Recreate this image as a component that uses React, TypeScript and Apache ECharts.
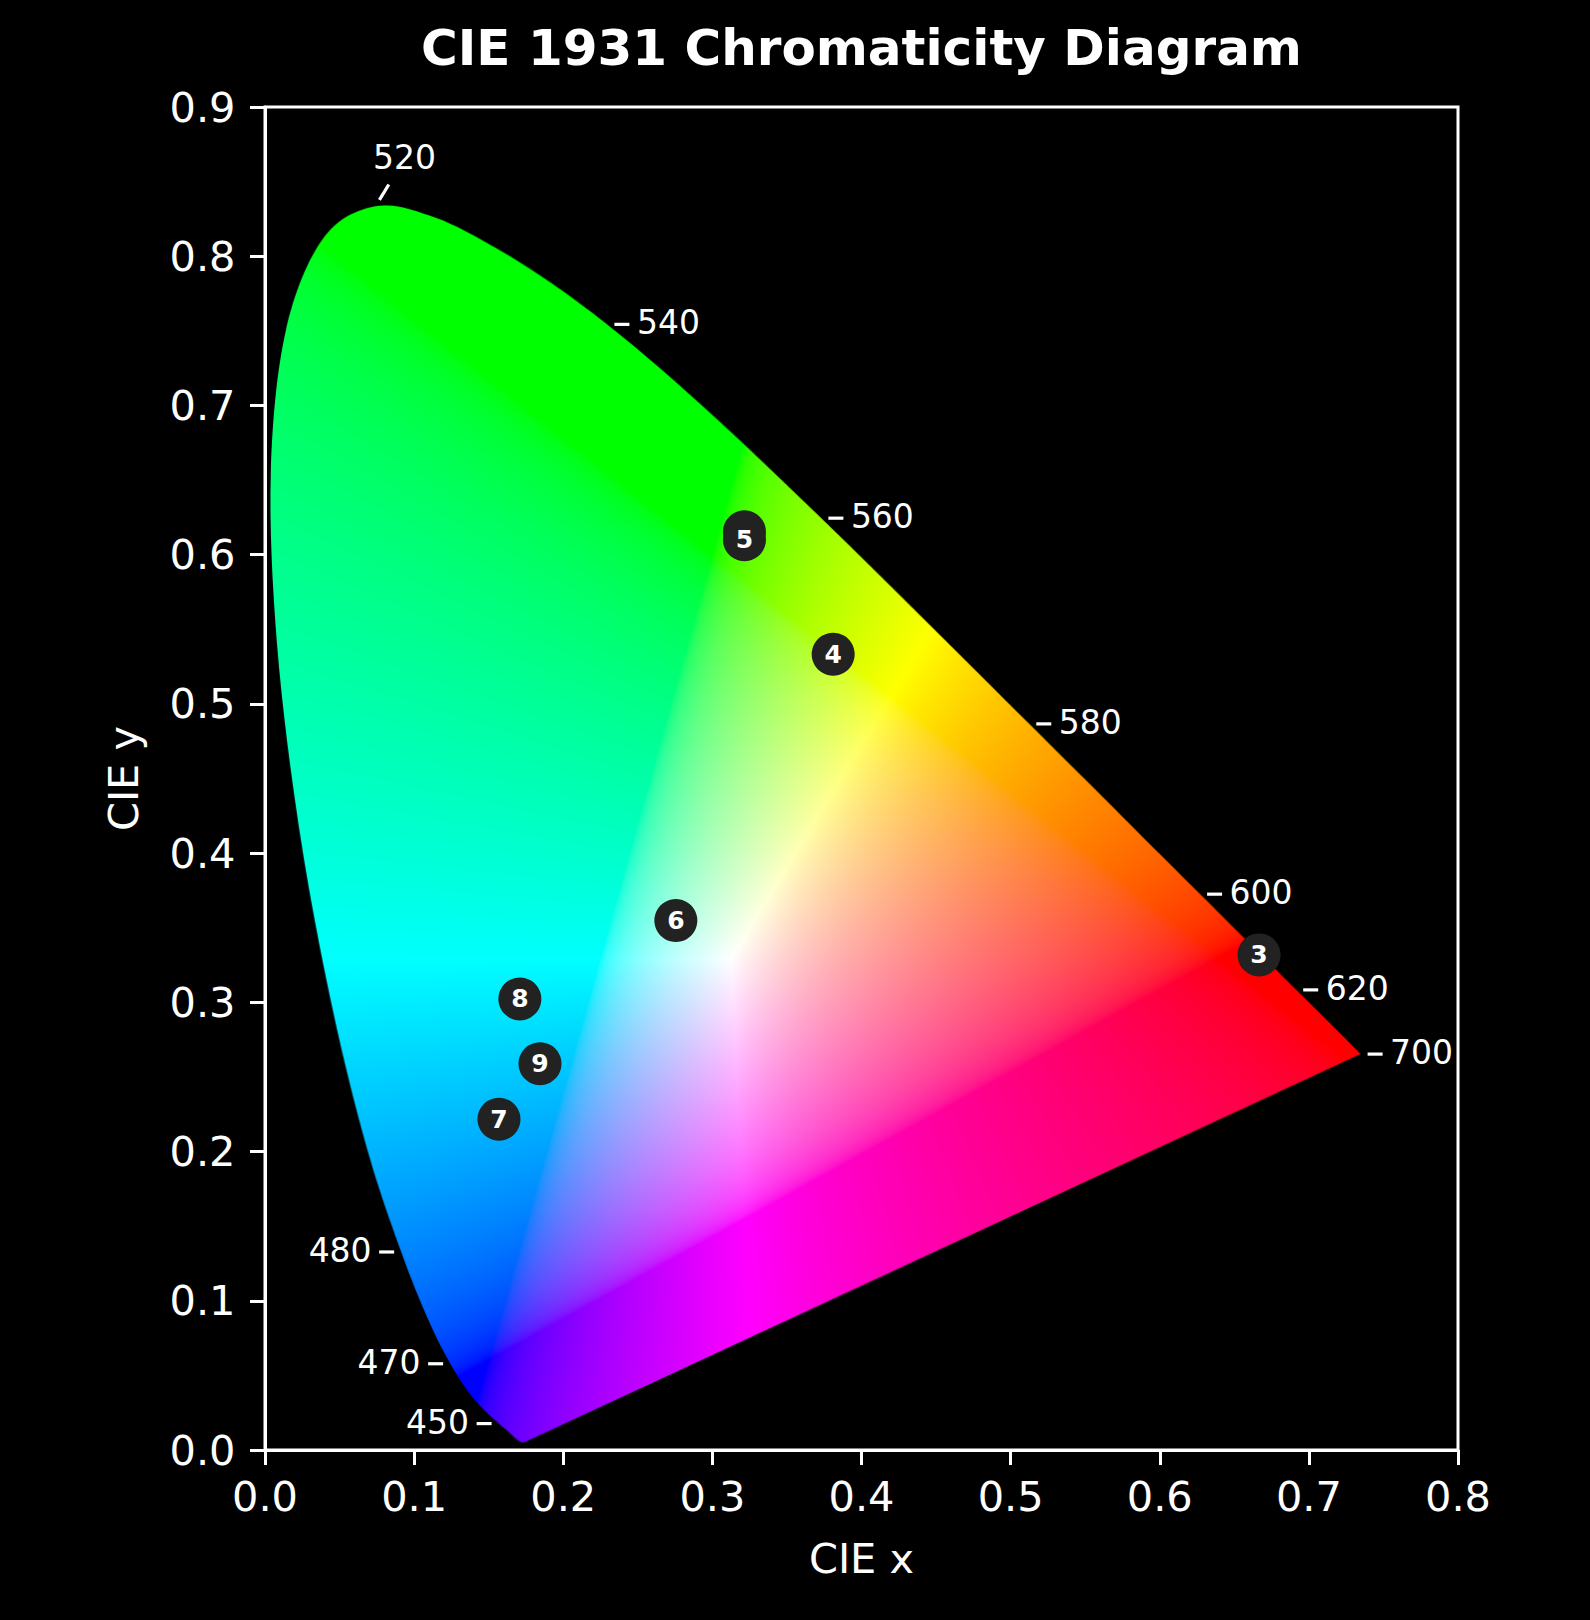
import React, { useEffect, useRef } from "react";
import * as echarts from "echarts";

// ---- Data ----
const WAVELENGTHS = [
  380, 385, 390, 395, 400, 405, 410, 415, 420, 425, 430, 435, 440, 445, 450, 455,
  460, 465, 470, 475, 480, 485, 490, 495, 500, 505, 510, 515, 520, 525, 530, 535,
  540, 545, 550, 555, 560, 565, 570, 575, 580, 585, 590, 595, 600, 605, 610, 615,
  620, 625, 630, 635, 640, 645, 650, 655, 660, 665, 670, 675, 680, 685, 690, 695, 700,
];
const LOCUS_X = [
  0.17411, 0.17401, 0.1738, 0.17356, 0.17334, 0.17302, 0.17258, 0.17209, 0.17141, 0.1703,
  0.16888, 0.1669, 0.16441, 0.1611, 0.15664, 0.15099, 0.14396, 0.1355, 0.12412, 0.10959,
  0.09129, 0.06871, 0.04539, 0.02346, 0.00817, 0.00386, 0.01387, 0.03885, 0.0743, 0.11416,
  0.15472, 0.19288, 0.22962, 0.26578, 0.3016, 0.33736, 0.3731, 0.40874, 0.44406, 0.47877,
  0.51249, 0.54479, 0.57515, 0.60293, 0.62704, 0.64823, 0.66576, 0.68008, 0.6915, 0.70061,
  0.70792, 0.71403, 0.71903, 0.72303, 0.72599, 0.72827, 0.72997, 0.73109, 0.73199, 0.73272,
  0.73342, 0.73405, 0.73439, 0.73459, 0.73469,
];
const LOCUS_Y = [
  0.00496, 0.00498, 0.00492, 0.00492, 0.0048, 0.00478, 0.0048, 0.00483, 0.0051, 0.00579,
  0.0069, 0.00856, 0.01086, 0.01379, 0.01771, 0.02274, 0.0297, 0.03988, 0.0578, 0.08684,
  0.1327, 0.20072, 0.29498, 0.4127, 0.53842, 0.65482, 0.75019, 0.81202, 0.8338, 0.82621,
  0.80586, 0.78163, 0.75433, 0.72432, 0.69231, 0.65885, 0.62445, 0.58961, 0.55471, 0.5202,
  0.48659, 0.45443, 0.42423, 0.3965, 0.37249, 0.35139, 0.33401, 0.31975, 0.30834, 0.2993,
  0.29203, 0.28593, 0.28093, 0.27695, 0.27401, 0.27173, 0.27003, 0.26891, 0.26801, 0.26728,
  0.26658, 0.26595, 0.26561, 0.26541, 0.26531,
];
const LABELED_WAVELENGTHS = [450, 470, 480, 520, 540, 560, 580, 600, 620, 700];

const MARKER_LABELS = ["3", "4", "5", "6", "7", "8", "9"];
const MARKER_X = [0.6666, 0.381, 0.3215, 0.2755, 0.1569, 0.1709, 0.1844];
const MARKER_Y = [0.3318, 0.5333, 0.61, 0.3548, 0.2217, 0.3023, 0.2589];
// a point hidden underneath marker 5
const HIDDEN_X = [0.3215];
const HIDDEN_Y = [0.6153];

const X_MIN = 0, X_MAX = 0.8, X_STEP = 0.1;
const Y_MIN = 0, Y_MAX = 0.9, Y_STEP = 0.1;

const TITLE = "CIE 1931 Chromaticity Diagram";
const X_NAME = "CIE x";
const Y_NAME = "CIE y";

// ---- Styles ----
const FONT = "DejaVu Sans";
const WHITE = "#ffffff";
const AXIS_FONT = 41.5;
// screen-space direction of each wavelength tick (default: to the right)
const LABEL_DIR: Record<number, [number, number]> = {
  450: [-1, 0],
  470: [-1, 0],
  480: [-1, 0],
  520: [0.52, -0.85],
};
const LABEL_DIST: Record<number, number> = { 520: 55 };
const TICK_END: Record<number, number> = { 520: 25 };

function encode(c: number): number {
  const v = c <= 0.0031308 ? 12.92 * c : 1.055 * Math.pow(c, 1 / 2.4) - 0.055;
  return Math.round(Math.max(0, Math.min(1, v)) * 255);
}

function chromaToRGB(x: number, y: number): [number, number, number] {
  const X = x / y;
  const Y = 1;
  const Z = (1 - x - y) / y;
  let r = 3.2406 * X - 1.5372 * Y - 0.4986 * Z;
  let g = -0.9689 * X + 1.8758 * Y + 0.0415 * Z;
  let b = 0.0557 * X - 0.204 * Y + 1.057 * Z;
  r = Math.max(r, 0);
  g = Math.max(g, 0);
  b = Math.max(b, 0);
  const m = Math.max(r, g, b) || 1;
  return [encode(r / m), encode(g / m), encode(b / m)];
}

function buildFillImage(W: number, H: number): string {
  const c1 = document.createElement("canvas");
  c1.width = W;
  c1.height = H;
  const ctx1 = c1.getContext("2d")!;
  const img = ctx1.createImageData(W, H);
  const d = img.data;
  for (let j = 0; j < H; j++) {
    const y = Y_MAX - ((j + 0.5) / H) * (Y_MAX - Y_MIN);
    if (y < 0.002) continue;
    for (let i = 0; i < W; i++) {
      const x = X_MIN + ((i + 0.5) / W) * (X_MAX - X_MIN);
      const [r, g, b] = chromaToRGB(x, y);
      const k = (j * W + i) * 4;
      d[k] = r;
      d[k + 1] = g;
      d[k + 2] = b;
      d[k + 3] = 255;
    }
  }
  ctx1.putImageData(img, 0, 0);

  // smooth outline (Catmull-Rom rendering of the locus samples) + straight line of purples
  const pts = LOCUS_X.map((x, k) => [
    ((x - X_MIN) / (X_MAX - X_MIN)) * W,
    ((Y_MAX - LOCUS_Y[k]) / (Y_MAX - Y_MIN)) * H,
  ]);
  const c2 = document.createElement("canvas");
  c2.width = W;
  c2.height = H;
  const ctx2 = c2.getContext("2d")!;
  ctx2.beginPath();
  ctx2.moveTo(pts[0][0], pts[0][1]);
  const n = pts.length;
  for (let k = 0; k < n - 1; k++) {
    const p0 = pts[Math.max(0, k - 1)];
    const p1 = pts[k];
    const p2 = pts[k + 1];
    const p3 = pts[Math.min(n - 1, k + 2)];
    ctx2.bezierCurveTo(
      p1[0] + (p2[0] - p0[0]) / 6,
      p1[1] + (p2[1] - p0[1]) / 6,
      p2[0] - (p3[0] - p1[0]) / 6,
      p2[1] - (p3[1] - p1[1]) / 6,
      p2[0],
      p2[1]
    );
  }
  ctx2.closePath();
  ctx2.clip();
  ctx2.drawImage(c1, 0, 0);
  return c2.toDataURL("image/png");
}

export default function App() {
  const ref = useRef<HTMLDivElement>(null);

  useEffect(() => {
    document.body.style.margin = "0";
    document.body.style.background = "#000";
    if (!ref.current) return;
    const chart = echarts.init(ref.current, undefined, { renderer: "svg" });
    const fillURL = buildFillImage(1200, 1350);

    const labelData = LABELED_WAVELENGTHS.map((wl) => {
      const idx = WAVELENGTHS.indexOf(wl);
      return [LOCUS_X[idx], LOCUS_Y[idx], wl];
    });

    const markerData: any[] = [];
    HIDDEN_X.forEach((x, i) => {
      markerData.push({ value: [x, HIDDEN_Y[i]], name: "", label: { show: false } });
    });
    MARKER_LABELS.forEach((lab, i) => {
      markerData.push({ value: [MARKER_X[i], MARKER_Y[i]], name: lab });
    });

    const axisLabelStyle = {
      color: WHITE,
      fontSize: AXIS_FONT,
      lineHeight: AXIS_FONT,
      fontFamily: FONT,
      formatter: (v: number) => v.toFixed(1),
    };

    chart.setOption({
      animation: false,
      backgroundColor: "#000000",
      title: {
        text: TITLE,
        left: 861.5,
        top: 23,
        padding: 0,
        textAlign: "center",
        textStyle: {
          color: WHITE,
          fontSize: 50,
          lineHeight: 50,
          fontWeight: "bold",
          fontFamily: FONT,
        },
      },
      grid: {
        left: 265,
        top: 107,
        width: 1193,
        height: 1343,
        show: true,
        borderColor: WHITE,
        borderWidth: 3,
        backgroundColor: "transparent",
      },
      xAxis: {
        type: "value",
        min: X_MIN,
        max: X_MAX,
        interval: X_STEP,
        name: X_NAME,
        nameLocation: "middle",
        nameGap: 88,
        nameTextStyle: { color: WHITE, fontSize: AXIS_FONT, lineHeight: AXIS_FONT, fontFamily: FONT },
        axisLine: { show: true, lineStyle: { color: WHITE, width: 3 } },
        axisTick: { show: true, inside: false, length: 15, lineStyle: { color: WHITE, width: 3 } },
        axisLabel: { ...axisLabelStyle, margin: 25.5 },
        splitLine: { show: false },
      },
      yAxis: {
        type: "value",
        min: Y_MIN,
        max: Y_MAX,
        interval: Y_STEP,
        name: Y_NAME,
        nameLocation: "middle",
        nameGap: 121,
        nameTextStyle: { color: WHITE, fontSize: AXIS_FONT, lineHeight: AXIS_FONT, fontFamily: FONT },
        axisLine: { show: true, lineStyle: { color: WHITE, width: 3 } },
        axisTick: { show: true, inside: false, length: 15, lineStyle: { color: WHITE, width: 3 } },
        axisLabel: { ...axisLabelStyle, margin: 29.5 },
        splitLine: { show: false },
      },
      series: [
        {
          type: "custom",
          name: "locus fill",
          coordinateSystem: "cartesian2d",
          silent: true,
          z: 1,
          data: [[X_MIN, Y_MAX]],
          encode: { x: 0, y: 1 },
          renderItem: (_params: any, api: any) => {
            const tl = api.coord([X_MIN, Y_MAX]);
            const br = api.coord([X_MAX, Y_MIN]);
            return {
              type: "image",
              silent: true,
              style: {
                image: fillURL,
                x: tl[0],
                y: tl[1],
                width: br[0] - tl[0],
                height: br[1] - tl[1],
              },
            };
          },
        },
        {
          type: "custom",
          name: "wavelengths",
          coordinateSystem: "cartesian2d",
          silent: true,
          z: 2,
          data: labelData,
          encode: { x: 0, y: 1 },
          renderItem: (_params: any, api: any) => {
            const p = api.coord([api.value(0), api.value(1)]);
            const wl = api.value(2) as number;
            const dir = LABEL_DIR[wl] || [1, 0];
            const dist = LABEL_DIST[wl] || 61;
            const tEnd = TICK_END[wl] || 22;
            return {
              type: "group",
              children: [
                {
                  type: "line",
                  shape: {
                    x1: p[0] + 7 * dir[0],
                    y1: p[1] + 7 * dir[1],
                    x2: p[0] + tEnd * dir[0],
                    y2: p[1] + tEnd * dir[1],
                  },
                  style: { stroke: WHITE, lineWidth: 3.2 },
                },
                {
                  type: "text",
                  style: {
                    text: String(wl),
                    x: p[0] + dist * dir[0],
                    y: p[1] + dist * dir[1] - 1.5,
                    fill: WHITE,
                    fontSize: 33,
                    fontFamily: FONT,
                    align: "center",
                    verticalAlign: "middle",
                  },
                },
              ],
            };
          },
        },
        {
          type: "scatter",
          name: "points",
          z: 3,
          symbol: "circle",
          symbolSize: 43,
          itemStyle: { color: "#222222", opacity: 1 },
          label: {
            show: true,
            position: "inside",
            formatter: "{b}",
            color: WHITE,
            fontSize: 25,
            fontWeight: "bold",
            fontFamily: FONT,
          },
          emphasis: { disabled: true },
          data: markerData,
        },
      ],
    });

    return () => {
      chart.dispose();
    };
  }, []);

  return (
    <div
      ref={ref}
      style={{ width: 1590, height: 1620, background: "#000", position: "relative" }}
    />
  );
}
